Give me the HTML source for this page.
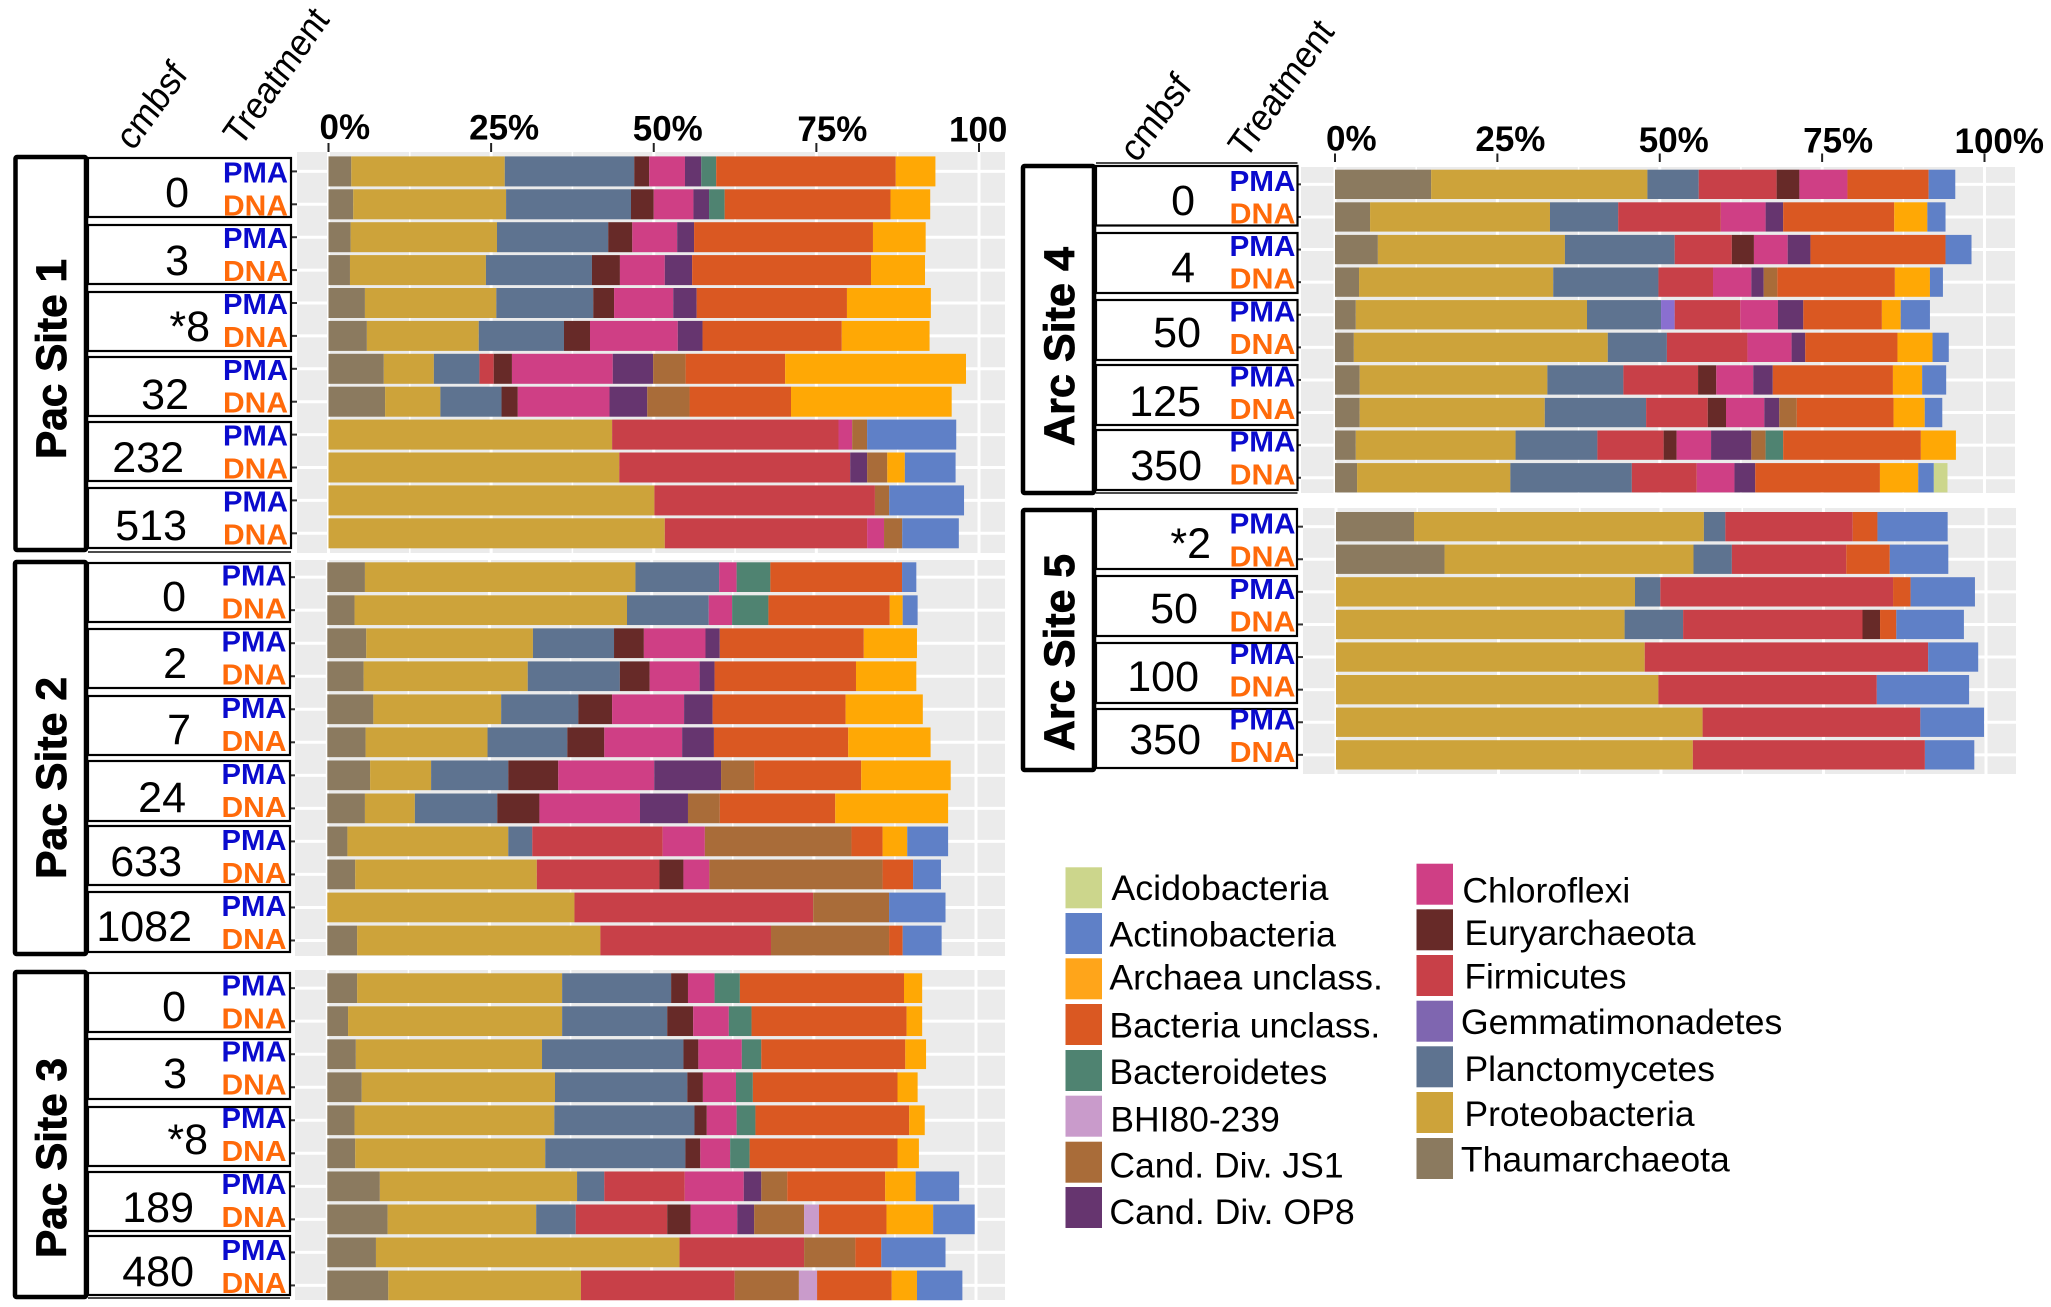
<!DOCTYPE html>
<html lang="en">
<head>
<meta charset="utf-8">
<title>Community composition by site, depth and treatment</title>
<style>
html,body{margin:0;padding:0;background:#fff;width:2051px;height:1307px;overflow:hidden}
svg{display:block;font-family:"Liberation Sans",Arial,sans-serif}
.legend-label{font-size:35px;fill:#000}
</style>
</head>
<body>
<svg id="chart" xmlns="http://www.w3.org/2000/svg" width="2051" height="1307" viewBox="0 0 2051 1307">
  <g id="panels"></g>

  <g id="legend">
    <rect x="1065.5" y="867.3" width="36.5" height="41" fill="#CCD68C"/>
    <text class="legend-label" x="1111.4" y="900" textLength="217" lengthAdjust="spacingAndGlyphs">Acidobacteria</text>
    <rect x="1065.5" y="913" width="36.5" height="41" fill="#5F80C7"/>
    <text class="legend-label" x="1109.4" y="946.7" textLength="226.5" lengthAdjust="spacingAndGlyphs">Actinobacteria</text>
    <rect x="1065.5" y="958.3" width="36.5" height="41" fill="#FFA51A"/>
    <text class="legend-label" x="1109.4" y="989.3" textLength="273.5" lengthAdjust="spacingAndGlyphs">Archaea unclass.</text>
    <rect x="1065.5" y="1004" width="36.5" height="41" fill="#DA5822"/>
    <text class="legend-label" x="1109.4" y="1037.3" textLength="270.9" lengthAdjust="spacingAndGlyphs">Bacteria unclass.</text>
    <rect x="1065.5" y="1050" width="36.5" height="41" fill="#4F8371"/>
    <text class="legend-label" x="1109.4" y="1084" textLength="217.9" lengthAdjust="spacingAndGlyphs">Bacteroidetes</text>
    <rect x="1065.5" y="1095.7" width="36.5" height="41" fill="#C99BCB"/>
    <text class="legend-label" x="1110.4" y="1131.7" textLength="169.4" lengthAdjust="spacingAndGlyphs">BHI80-239</text>
    <rect x="1065.5" y="1141.7" width="36.5" height="41" fill="#A96C39"/>
    <text class="legend-label" x="1109.4" y="1177.3" textLength="234.2" lengthAdjust="spacingAndGlyphs">Cand. Div. JS1</text>
    <rect x="1065.5" y="1187" width="36.5" height="41" fill="#66356F"/>
    <text class="legend-label" x="1109.4" y="1224" textLength="245.4" lengthAdjust="spacingAndGlyphs">Cand. Div. OP8</text>

    <rect x="1416.5" y="863.7" width="36.5" height="41" fill="#CF3F85"/>
    <text class="legend-label" x="1462.4" y="902.7" textLength="167.9" lengthAdjust="spacingAndGlyphs">Chloroflexi</text>
    <rect x="1416.5" y="909.3" width="36.5" height="41" fill="#672A28"/>
    <text class="legend-label" x="1464.5" y="945" textLength="231" lengthAdjust="spacingAndGlyphs">Euryarchaeota</text>
    <rect x="1416.5" y="955" width="36.5" height="41" fill="#C84048"/>
    <text class="legend-label" x="1464.5" y="988.3" textLength="162" lengthAdjust="spacingAndGlyphs">Firmicutes</text>
    <rect x="1416.5" y="1000.7" width="36.5" height="41" fill="#7F66B0"/>
    <text class="legend-label" x="1460.9" y="1034" textLength="321.4" lengthAdjust="spacingAndGlyphs">Gemmatimonadetes</text>
    <rect x="1416.5" y="1046.3" width="36.5" height="41" fill="#5E7390"/>
    <text class="legend-label" x="1464.5" y="1081" textLength="250.5" lengthAdjust="spacingAndGlyphs">Planctomycetes</text>
    <rect x="1416.5" y="1092" width="36.5" height="41" fill="#CDA33A"/>
    <text class="legend-label" x="1464.5" y="1126" textLength="230" lengthAdjust="spacingAndGlyphs">Proteobacteria</text>
    <rect x="1416.5" y="1138" width="36.5" height="41" fill="#8B7A5F"/>
    <text class="legend-label" x="1460.9" y="1171.7" textLength="268.9" lengthAdjust="spacingAndGlyphs">Thaumarchaeota</text>
  </g>
</svg>

<script>
// ---- Categories: stack order, left to right ----
const taxa = ['Thaumarchaeota','Proteobacteria','Planctomycetes','Gemmatimonadetes','Firmicutes','Euryarchaeota','Chloroflexi','Cand. Div. OP8','Cand. Div. JS1','BHI80-239','Bacteroidetes','Bacteria unclass.','Archaea unclass.','Actinobacteria','Acidobacteria'];
const taxaColors = ['#8B7A5F','#CDA33A','#5E7390','#8A6FD0','#C84048','#672A28','#CF3F85','#66356F','#A96C39','#C99BCB','#4F8371','#DA5822','#FFA805','#5F80C7','#CCD68C'];
const treatments = ['PMA','DNA'];
const tickValues = [0,25,50,75,100];
const pac1TickLabels = ['0%','25%','50%','75%','100'];
const arc4TickLabels = ['0%','25%','50%','75%','100%'];

// ---- Depth labels (cmbsf) ----
const pac1Depths = ['0','3','*8','32','232','513'];
const pac2Depths = ['0','2','7','24','633','1082'];
const pac3Depths = ['0','3','*8','189','480'];
const arc4Depths = ['0','4','50','125','350'];
const arc5Depths = ['*2','50','100','350'];

// ---- Series values: percent per taxon, one row per sample, columns follow `taxa` ----
const pac1Values = [
 [3.5,23.6,19.9,0,0,2.3,5.5,2.5,0,0,2.3,27.6,6.1,0,0],
 [3.8,23.5,19.2,0,0,3.5,6.1,2.4,0,0,2.4,25.5,6.1,0,0],
 [3.4,22.5,17.1,0,0,3.7,6.9,2.6,0,0,0,27.5,8.1,0,0],
 [3.3,20.9,16.3,0,0,4.3,6.9,4.2,0,0,0,27.5,8.3,0,0],
 [5.6,20.2,14.9,0,0,3.2,9.1,3.6,0,0,0,23.1,12.9,0,0],
 [5.9,17.2,13.1,0,0,4,13.5,3.8,0,0,0,21.4,13.5,0,0],
 [8.5,7.7,7,0,2.2,2.8,15.5,6.2,5,0,0,15.3,27.8,0,0],
 [8.7,8.5,9.4,0,0,2.5,14.1,5.8,6.5,0,0,15.6,24.7,0,0],
 [0,43.6,0,0,34.8,0,2.1,0,2.3,0,0,0,0,13.7,0],
 [0,44.7,0,0,35.5,0,0,2.6,3.1,0,0,0,2.7,7.8,0],
 [0,50.1,0,0,33.9,0,0,0,2.2,0,0,0,0,11.5,0],
 [0,51.7,0,0,31.1,0,2.6,0,2.8,0,0,0,0,8.7,0]
];
const pac2Values = [
 [5.8,41.7,12.9,0,0,0,2.7,0,0,0,5.2,20.3,0,2.2,0],
 [4.2,42,12.6,0,0,0,3.6,0,0,0,5.6,18.7,2,2.3,0],
 [6,25.7,12.5,0,0,4.6,9.5,2.2,0,0,0,22.2,8.2,0,0],
 [5.6,25.3,14.2,0,0,4.6,7.7,2.3,0,0,0,21.8,9.3,0,0],
 [7.1,19.7,11.9,0,0,5.2,11.1,4.4,0,0,0,20.5,11.9,0,0],
 [5.9,18.8,12.3,0,0,5.7,12,4.9,0,0,0,20.7,12.7,0,0],
 [6.6,9.4,11.9,0,0,7.7,14.8,10.3,5.1,0,0,16.5,13.8,0,0],
 [5.8,7.7,12.7,0,0,6.5,15.5,7.4,4.9,0,0,17.8,17.4,0,0],
 [3.1,24.8,3.7,0,20.1,0,6.5,0,22.6,0,0,4.8,3.8,6.3,0],
 [4.3,28,0,0,18.9,3.7,4,0,26.7,0,0,4.7,0,4.3,0],
 [0,38.1,0,0,36.8,0,0,0,11.7,0,0,0,0,8.7,0],
 [4.6,37.5,0,0,26.3,0,0,0,18.2,0,0,2.1,0,6,0]
];
const pac3Values = [
 [4.6,31.6,16.8,0,0,2.6,4.1,0,0,0,3.9,25.3,2.8,0,0],
 [3.2,33,16.2,0,0,4,5.5,0,0,0,3.5,23.9,2.4,0,0],
 [4.4,28.7,21.8,0,0,2.3,6.7,0,0,0,3,22.2,3.2,0,0],
 [5.3,29.8,20.4,0,0,2.4,5.1,0,0,0,2.6,22.3,3.1,0,0],
 [4.2,30.8,21.6,0,0,1.9,4.6,0,0,0,2.9,23.7,2.4,0,0],
 [4.3,29.3,21.6,0,0,2.3,4.6,0,0,0,3,22.8,3.3,0,0],
 [8.1,30.4,4.2,0,12.4,0,9.1,2.7,4,0,0,15.1,4.7,6.7,0],
 [9.3,22.9,6.1,0,14.1,3.6,7.2,2.6,7.7,2.3,0,10.4,7.2,6.4,0],
 [7.5,46.8,0,0,19.2,0,0,0,7.9,0,0,4,0,9.9,0],
 [9.4,29.7,0,0,23.7,0,0,0,9.9,2.8,0,11.5,3.9,7,0]
];
const arc4Values = [
 [14.8,33.3,7.9,0,12,3.5,7.4,0,0,0,0,12.5,0,4.1,0],
 [5.4,27.7,10.5,0,15.8,0,6.9,2.7,0,0,0,17.1,5.1,2.8,0],
 [6.6,28.8,16.9,0,8.8,3.4,5.2,3.5,0,0,0,20.8,0,4,0],
 [3.7,29.9,16.2,0,8.4,0,5.9,1.9,2.1,0,0,18.1,5.4,2,0],
 [3.2,35.6,11.4,2.1,10.1,0,5.8,3.9,0,0,0,12.1,2.9,4.5,0],
 [2.9,39.1,9.1,0,12.4,0,6.8,2.1,0,0,0,14.2,5.4,2.5,0],
 [3.8,28.9,11.7,0,11.5,2.8,5.7,3,0,0,0,18.5,4.5,3.7,0],
 [3.8,28.5,15.6,0,9.5,2.8,5.9,2.3,2.7,0,0,14.9,4.8,2.7,0],
 [3.2,24.6,12.6,0,10.2,2,5.3,6.2,2.2,0,2.7,21.2,5.4,0,0],
 [3.4,23.6,18.7,0,10,0,5.8,3.2,0,0,0,19.2,5.9,2.4,2.1]
];
const arc5Values = [
 [12,44.6,3.3,0,19.6,0,0,0,0,0,0,3.8,0,10.8,0],
 [16.7,38.3,5.9,0,17.6,0,0,0,0,0,0,6.7,0,9,0],
 [0,46,3.9,0,35.8,0,0,0,0,0,0,2.7,0,9.9,0],
 [0,44.4,9,0,27.6,2.7,0,0,0,0,0,2.5,0,10.4,0],
 [0,47.5,0,0,43.6,0,0,0,0,0,0,0,0,7.7,0],
 [0,49.6,0,0,33.6,0,0,0,0,0,0,0,0,14.2,0],
 [0,56.4,0,0,33.5,0,0,0,0,0,0,0,0,9.8,0],
 [0,54.9,0,0,35.7,0,0,0,0,0,0,0,0,7.6,0]
];

// ---- Layout (pixels), kept apart from the data ----
const tickLabelOffsets = [-9,-22,-21,-19,-30];
const panelLayouts = [
 {key:'pac-site-1',title:'Pac Site 1',values:pac1Values,depths:pac1Depths,ticks:pac1TickLabels,x0:328.5,x100:979,bgX:297,bgR:1005,bgY:152,bgB:553,rowY:156.4,rowStep:32.9,rowH:30,
  stripX:15.5,stripR:86,stripY:157,stripB:550,titleX:66,titleB:459,titleLen:200,cellX:88,cellR:291,
  cellTops:[158,225,292,357,422,488],cellBottoms:[217,284,351,416,481,548],depthBase:[207,275,341,409,472,540],depthRight:[189,189,210,189,184,187],
  labelX:223,labelLen:65,labelDy:11,extraLines:[552],tickBase:139,tickTop:143,tickBottom:152},
 {key:'pac-site-2',title:'Pac Site 2',values:pac2Values,depths:pac2Depths,ticks:null,x0:327.3,x100:976,bgX:295,bgR:1005,bgY:560,bgB:956,rowY:562.3,rowStep:33.03,rowH:29.7,
  stripX:15,stripR:86,stripY:562,stripB:954,titleX:66,titleB:879,titleLen:202,cellX:88,cellR:290,
  cellTops:[563,629,696,761,826,892],cellBottoms:[622,688,755,821,885,952],depthBase:[611,678,744,812,876,941],depthRight:[186,187,191,186,182,192],
  labelX:221.5,labelLen:65,labelDy:8.5,extraLines:[]},
 {key:'pac-site-3',title:'Pac Site 3',values:pac3Values,depths:pac3Depths,ticks:null,x0:327.3,x100:976,bgX:295,bgR:1005,bgY:970,bgB:1300,rowY:973.3,rowStep:33.03,rowH:29.7,
  stripX:15,stripR:86,stripY:972,stripB:1297,titleX:66,titleB:1258,titleLen:200,cellX:88,cellR:290,
  cellTops:[973,1039,1107,1172,1236],cellBottoms:[1032,1099,1166,1231,1295],depthBase:[1021,1088,1154,1222,1286],depthRight:[186,187,208,194,194],
  labelX:221.5,labelLen:65,labelDy:7.5,extraLines:[1298]},
 {key:'arc-site-4',title:'Arc Site 4',values:arc4Values,depths:arc4Depths,ticks:arc4TickLabels,x0:1335,x100:1984.5,bgX:1301,bgR:2015,bgY:167,bgB:493,rowY:169.7,rowStep:32.6,rowH:29.3,
  stripX:1023,stripR:1094,stripY:166,stripB:493,titleX:1074,titleB:446,titleLen:199,cellX:1096,cellR:1297.5,
  cellTops:[166,233,300,365,430],cellBottoms:[225.5,293,360,425,490],depthBase:[215,282,347,416,480],depthRight:[1195,1195,1201,1201,1202],
  labelX:1229.5,labelLen:66,labelDy:6.5,extraLines:[163,493],tickBase:150.5,tickTop:153.5,tickBottom:162},
 {key:'arc-site-5',title:'Arc Site 5',values:arc5Values,depths:arc5Depths,ticks:null,x0:1336,x100:1986,bgX:1303,bgR:2016,bgY:508,bgB:774,rowY:512,rowStep:32.6,rowH:29.3,
  stripX:1023,stripR:1094,stripY:510,stripB:770,titleX:1074,titleB:751,titleLen:197,cellX:1096,cellR:1297,
  cellTops:[509,576,643,709],cellBottoms:[569,636,703,768],depthBase:[558,623,691,754],depthRight:[1211,1198,1199,1201],
  labelX:1229.5,labelLen:66,labelDy:7,extraLines:[]}
];
const headerLayouts = [
 {cx:133,cy:152,tx:241,ty:148},
 {cx:1137,cy:164,tx:1246,ty:160}
];

const NS = 'http://www.w3.org/2000/svg';
const root = document.getElementById('panels');

function make(tag, attrs, parent) {
  const node = document.createElementNS(NS, tag);
  for (const k in attrs) node.setAttribute(k, attrs[k]);
  parent.appendChild(node);
  return node;
}
function slug(s) { return s.toLowerCase().replace(/[^a-z0-9]+/g, '-').replace(/^-|-$/g, ''); }

function drawPanel(p) {
  const g = make('g', {}, root);
  
  

  const xScale = v => p.x0 + (v / 100) * (p.x100 - p.x0);
  const rowTop = i => p.rowY + i * p.rowStep;
  const rowMid = i => rowTop(i) + p.rowH / 2;

  // plot background
  const bg = make('rect', {x:p.bgX, y:p.bgY, width:p.bgR - p.bgX, height:p.bgB - p.bgY, fill:'#EBEBEB'}, g);
  
  

  // gridlines
  tickValues.forEach(v => {
    const line = make('line', {x1:xScale(v), x2:xScale(v), y1:p.bgY, y2:p.bgB, stroke:'#fff', 'stroke-width':3}, g);
    
    
    if (v < 100) {
      const minor = make('line', {x1:xScale(v + 12.5), x2:xScale(v + 12.5), y1:p.bgY, y2:p.bgB, stroke:'#fff', 'stroke-width':1.5}, g);
      
      
    }
  });
  p.values.forEach((row, i) => {
    const line = make('line', {x1:p.bgX, x2:p.bgR, y1:rowMid(i), y2:rowMid(i), stroke:'#fff', 'stroke-width':3}, g);
    
    
  });

  // stacked bars
  p.values.forEach((row, i) => {
    let cum = 0;
    row.forEach((val, t) => {
      if (val > 0) {
        const seg = make('rect', {x:xScale(cum), y:rowTop(i), width:xScale(cum + val) - xScale(cum), height:p.rowH, fill:taxaColors[t]}, g);
        
        
      }
      cum += val;
    });
  });

  // y ticks
  p.values.forEach((row, i) => {
    const tick = make('line', {x1:p.cellR, x2:p.bgX, y1:rowMid(i), y2:rowMid(i), stroke:'#333', 'stroke-width':2}, g);
    
    
  });

  // x axis
  if (p.ticks) {
    tickValues.forEach((v, k) => {
      const tick = make('line', {x1:xScale(v), x2:xScale(v), y1:p.tickTop, y2:p.tickBottom, stroke:'#222', 'stroke-width':2}, g);
      
      
      const label = make('text', {x:xScale(v) + tickLabelOffsets[k], y:p.tickBase + v * 0.025, 'font-size':35, 'font-weight':'bold', fill:'#000'}, g);
      
      
      label.textContent = p.ticks[k];
    });
  }

  // site strip
  const strip = make('rect', {x:p.stripX, y:p.stripY, width:p.stripR - p.stripX, height:p.stripB - p.stripY, rx:1.5, fill:'#fff', stroke:'#000', 'stroke-width':4.5}, g);
  
  
  const title = make('text', {x:p.titleX, y:p.titleB, transform:'rotate(-90 ' + p.titleX + ' ' + p.titleB + ')', 'font-size':42.5, 'font-weight':'bold', fill:'#000', stroke:'#000', 'stroke-width':0.8, textLength:p.titleLen, lengthAdjust:'spacingAndGlyphs'}, g);
  
  
  title.textContent = p.title;

  // depth cells
  p.depths.forEach((depth, d) => {
    const cell = make('rect', {x:p.cellX, y:p.cellTops[d], width:p.cellR - p.cellX, height:p.cellBottoms[d] - p.cellTops[d], fill:'#fff', stroke:'#000', 'stroke-width':2.2}, g);
    
    
    const label = make('text', {x:p.depthRight[d], y:p.depthBase[d], 'text-anchor':'end', 'font-size':43, fill:'#000'}, g);
    
    
    label.textContent = depth;
  });
  p.extraLines.forEach(y => {
    const line = make('line', {x1:p.cellX, x2:p.cellR, y1:y, y2:y, stroke:'#111', 'stroke-width':1.5}, g);
    
    
  });

  // treatment labels
  p.values.forEach((row, i) => {
    const name = treatments[i % 2];
    const label = make('text', {x:p.labelX, y:rowMid(i) + p.labelDy, 'font-size':29, 'font-weight':'bold', fill:name === 'PMA' ? '#0A0ACD' : '#FF6A0A', textLength:p.labelLen, lengthAdjust:'spacingAndGlyphs'}, g);
    
    
    label.textContent = name;
  });
}

panelLayouts.forEach(drawPanel);

headerLayouts.forEach(h => {
  const c = make('text', {transform:'translate(' + h.cx + ' ' + h.cy + ') rotate(-54) skewX(-4)', 'font-size':37, fill:'#000', textLength:95, lengthAdjust:'spacingAndGlyphs'}, root);
  
  
  c.textContent = 'cmbsf';
  const t = make('text', {transform:'translate(' + h.tx + ' ' + h.ty + ') rotate(-55) skewX(-4)', 'font-size':37, fill:'#000', textLength:156, lengthAdjust:'spacingAndGlyphs'}, root);
  
  
  t.textContent = 'Treatment';
});
</script>
</body>
</html>
